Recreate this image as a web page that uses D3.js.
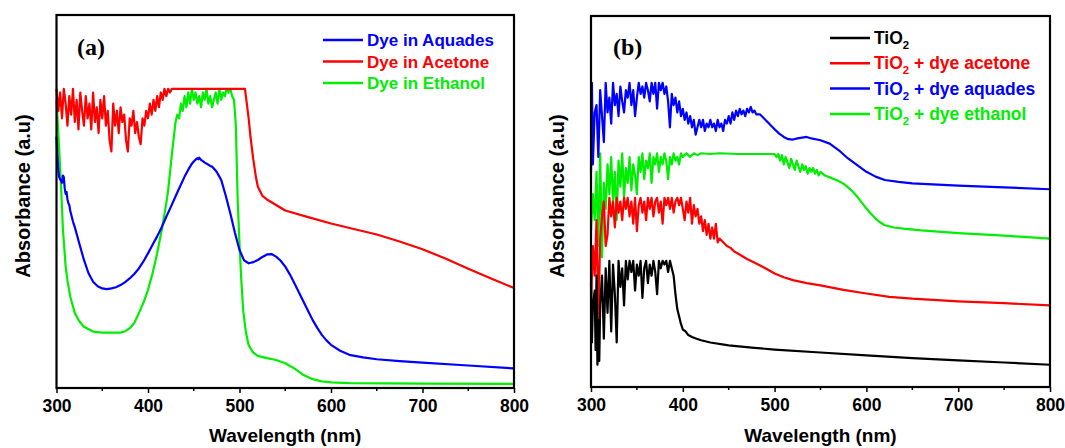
<!DOCTYPE html>
<html>
<head>
<meta charset="utf-8">
<script src="https://cdn.jsdelivr.net/npm/d3@7"></script>
<style>
  body { margin: 0; background: #fff; }
  text { font-family: "Liberation Sans", Arial, sans-serif; font-weight: bold; }
</style>
</head>
<body>
<svg width="1065" height="448"></svg>
<script>
// x ticks (nm)
const majorTicks = [300, 400, 500, 600, 700, 800];
const minorTicks = [350, 450, 550, 650, 750];

// panel (a): dye solutions, [wavelength, absorbance a.u.]
const dyeAquades = [
  [300,0.67],[301,0.62],[302,0.58],[303,0.56],[304,0.555],[305,0.55],[306,0.545],[307,0.565],[308,0.56],
  [309,0.53],[310,0.515],[311,0.52],[312,0.50],[313,0.49],[314,0.485],[315,0.47],[316,0.46],[318,0.44],
  [320,0.425],[325,0.38],[330,0.336],[335,0.30],[340,0.277],[345,0.265],[350,0.259],[355,0.257],[360,0.259],
  [365,0.262],[370,0.268],[375,0.276],[380,0.286],[385,0.298],[390,0.313],[395,0.332],[400,0.354],[405,0.377],
  [410,0.40],[415,0.425],[420,0.453],[425,0.48],[430,0.508],[435,0.535],[440,0.562],[445,0.585],[448,0.597],
  [450,0.603],[452,0.608],[454,0.612],[455,0.609],[456,0.613],[458,0.607],[460,0.604],[462,0.600],[464,0.597],
  [466,0.594],[468,0.591],[470,0.589],[472,0.584],[475,0.575],[478,0.562],[480,0.553],[485,0.51],[490,0.462],
  [495,0.41],[500,0.363],[505,0.335],[510,0.327],[515,0.33],[520,0.336],[525,0.344],[530,0.351],[535,0.352],
  [540,0.345],[545,0.334],[550,0.318],[555,0.297],[560,0.273],[565,0.248],[570,0.223],[575,0.198],[580,0.173],
  [585,0.152],[590,0.133],[595,0.118],[600,0.106],[610,0.09],[620,0.079],[635,0.072],[650,0.067],[675,0.062],
  [700,0.058],[750,0.050],[800,0.042]
];

const dyeAcetone = [
  [300,0.80],[302,0.74],[304,0.79],[306,0.72],[308,0.80],[310,0.76],[312,0.70],[314,0.78],[316,0.73],
  [318,0.80],[320,0.71],[322,0.77],[324,0.69],[326,0.79],[328,0.74],[330,0.70],[332,0.78],[334,0.72],
  [336,0.76],[338,0.69],[340,0.79],[342,0.71],[344,0.75],[346,0.68],[348,0.77],[350,0.72],[352,0.78],
  [354,0.70],[356,0.74],[358,0.66],[360,0.63],[362,0.76],[364,0.70],[366,0.74],[368,0.68],[370,0.75],
  [372,0.71],[374,0.73],[376,0.66],[378,0.63],[380,0.72],[382,0.70],[384,0.74],[386,0.68],[388,0.71],
  [390,0.67],[392,0.65],[394,0.72],[396,0.70],[398,0.74],[400,0.72],[402,0.76],[404,0.73],[406,0.77],
  [408,0.74],[410,0.78],[412,0.75],[414,0.79],[416,0.77],[418,0.80],[420,0.78],[422,0.80],[424,0.79],
  [426,0.80],[430,0.80],[460,0.80],[490,0.80],[506,0.80],[508,0.76],[510,0.72],[512,0.67],[515,0.61],
  [518,0.56],[520,0.535],[525,0.51],[530,0.50],[540,0.485],[550,0.47],[575,0.452],[600,0.435],[625,0.42],
  [650,0.405],[675,0.386],[700,0.365],[725,0.34],[750,0.312],[775,0.286],[800,0.26]
];

const dyeEthanol = [
  [300,0.77],[302,0.68],[305,0.535],[307,0.42],[310,0.318],[312,0.28],[315,0.237],[320,0.192],[325,0.17],
  [330,0.155],[340,0.142],[350,0.139],[360,0.139],[370,0.139],[375,0.143],[380,0.151],[385,0.165],
  [390,0.192],[395,0.22],[400,0.255],[405,0.30],[410,0.354],[415,0.417],[420,0.49],[422,0.524],[426,0.62],
  [430,0.708],[432,0.73],[434,0.72],[436,0.76],[438,0.74],[440,0.78],[442,0.75],[444,0.79],[446,0.76],
  [448,0.80],[450,0.77],[452,0.79],[454,0.76],[456,0.78],[458,0.75],[460,0.79],[462,0.77],[464,0.80],
  [466,0.76],[468,0.78],[470,0.75],[472,0.77],[474,0.79],[476,0.76],[478,0.80],[480,0.77],[482,0.79],
  [484,0.78],[486,0.80],[488,0.79],[490,0.80],[492,0.78],[494,0.77],[496,0.70],[497,0.60],[498,0.50],
  [500,0.38],[502,0.28],[504,0.20],[507,0.14],[510,0.105],[515,0.085],[520,0.076],[530,0.07],[540,0.065],
  [550,0.056],[560,0.042],[570,0.024],[580,0.013],[590,0.007],[600,0.004],[620,0.002],[700,0.001],[800,0.0]
];

// panel (b): TiO2 films
const tio2 = [
  [300,0.28],[301,0.12],[302,0.22],[304,0.26],[305,0.10],[306,0.30],[307,0.06],[308,0.18],[309,0.07],
  [310,0.22],[312,0.30],[314,0.13],[316,0.32],[318,0.20],[320,0.34],[322,0.15],[324,0.33],[326,0.25],
  [328,0.12],[330,0.34],[332,0.27],[334,0.32],[336,0.22],[338,0.34],[340,0.29],[342,0.34],[344,0.31],
  [346,0.34],[348,0.26],[350,0.33],[352,0.30],[354,0.34],[356,0.24],[358,0.32],[360,0.34],[362,0.28],
  [364,0.33],[366,0.30],[368,0.34],[370,0.31],[372,0.25],[374,0.34],[376,0.32],[378,0.34],[380,0.33],
  [382,0.34],[384,0.31],[386,0.34],[388,0.32],[390,0.30],[392,0.25],[394,0.21],[396,0.19],[398,0.17],
  [400,0.155],[403,0.15],[406,0.14],[410,0.135],[415,0.13],[420,0.126],[430,0.12],[450,0.112],[475,0.106],
  [500,0.101],[550,0.093],[600,0.085],[650,0.078],[700,0.072],[750,0.066],[800,0.060]
];

const tio2Acetone = [
  [300,0.22],[302,0.38],[304,0.30],[306,0.45],[308,0.18],[310,0.40],[312,0.46],[314,0.50],[316,0.38],
  [318,0.41],[320,0.51],[322,0.46],[324,0.50],[326,0.43],[328,0.51],[330,0.47],[332,0.50],[334,0.45],
  [336,0.51],[338,0.48],[340,0.51],[342,0.46],[344,0.50],[346,0.44],[348,0.51],[350,0.42],[352,0.49],
  [354,0.51],[356,0.47],[358,0.50],[360,0.45],[362,0.51],[364,0.48],[366,0.51],[368,0.46],[370,0.50],
  [372,0.51],[374,0.47],[376,0.50],[378,0.44],[380,0.51],[382,0.49],[384,0.51],[386,0.48],[388,0.51],
  [390,0.47],[392,0.50],[394,0.51],[396,0.49],[398,0.51],[400,0.48],[402,0.45],[404,0.50],[406,0.47],
  [408,0.51],[410,0.44],[412,0.49],[414,0.46],[416,0.48],[418,0.44],[420,0.46],[422,0.42],[424,0.45],
  [426,0.41],[428,0.44],[430,0.40],[432,0.43],[434,0.40],[436,0.44],[438,0.39],[440,0.40],[444,0.39],
  [448,0.38],[452,0.375],[456,0.365],[460,0.36],[470,0.345],[480,0.333],[490,0.32],[500,0.306],[510,0.296],
  [520,0.288],[535,0.28],[550,0.274],[575,0.262],[600,0.252],[625,0.243],[650,0.238],[700,0.231],
  [750,0.226],[800,0.22]
];

const tio2Aquades = [
  [300,0.58],[301,0.82],[302,0.60],[304,0.74],[306,0.76],[308,0.62],[310,0.80],[312,0.73],[314,0.66],
  [316,0.82],[318,0.74],[320,0.78],[322,0.71],[324,0.82],[326,0.76],[328,0.79],[330,0.73],[332,0.81],
  [334,0.77],[336,0.74],[338,0.80],[340,0.78],[342,0.82],[344,0.76],[346,0.80],[348,0.73],[350,0.78],
  [352,0.82],[354,0.79],[356,0.81],[358,0.78],[360,0.82],[362,0.80],[364,0.77],[366,0.82],[368,0.79],
  [370,0.82],[372,0.75],[374,0.82],[376,0.80],[378,0.82],[380,0.79],[382,0.81],[384,0.77],[386,0.70],
  [388,0.79],[390,0.76],[392,0.78],[394,0.74],[396,0.77],[398,0.73],[400,0.75],[402,0.72],[404,0.74],
  [406,0.71],[408,0.73],[410,0.70],[412,0.72],[414,0.68],[416,0.70],[418,0.72],[420,0.70],[422,0.72],
  [424,0.69],[426,0.71],[428,0.70],[430,0.72],[432,0.70],[434,0.71],[436,0.69],[438,0.72],[440,0.70],
  [442,0.71],[444,0.69],[446,0.72],[448,0.71],[450,0.73],[452,0.71],[454,0.74],[456,0.72],[458,0.745],
  [460,0.73],[462,0.75],[464,0.735],[466,0.745],[468,0.73],[470,0.75],[472,0.74],[474,0.755],[476,0.74],
  [478,0.745],[480,0.735],[484,0.735],[488,0.725],[492,0.715],[496,0.705],[500,0.695],[505,0.683],
  [510,0.674],[515,0.668],[520,0.667],[525,0.67],[530,0.672],[535,0.674],[540,0.67],[550,0.665],
  [560,0.656],[570,0.638],[580,0.616],[590,0.598],[600,0.58],[610,0.567],[620,0.558],[635,0.553],
  [650,0.549],[700,0.543],[750,0.538],[800,0.533]
];

const tio2Ethanol = [
  [300,0.42],[302,0.52],[304,0.45],[306,0.58],[308,0.38],[310,0.63],[312,0.35],[314,0.55],[316,0.48],
  [318,0.60],[320,0.52],[322,0.62],[324,0.50],[326,0.58],[328,0.45],[330,0.61],[332,0.54],[334,0.63],
  [336,0.51],[338,0.59],[340,0.55],[342,0.62],[344,0.53],[346,0.60],[348,0.57],[350,0.52],[352,0.62],
  [354,0.58],[356,0.63],[358,0.56],[360,0.61],[362,0.59],[364,0.63],[366,0.55],[368,0.62],[370,0.60],
  [372,0.63],[374,0.58],[376,0.62],[378,0.60],[380,0.63],[382,0.61],[384,0.56],[386,0.62],[388,0.60],
  [390,0.63],[392,0.61],[394,0.62],[396,0.60],[398,0.63],[400,0.62],[404,0.63],[408,0.62],[412,0.63],
  [416,0.625],[420,0.63],[430,0.628],[440,0.63],[460,0.628],[480,0.628],[500,0.628],[502,0.62],
  [504,0.628],[506,0.61],[508,0.625],[510,0.60],[512,0.62],[514,0.605],[516,0.59],[518,0.615],[520,0.60],
  [522,0.585],[524,0.61],[526,0.595],[528,0.58],[530,0.60],[532,0.585],[534,0.595],[536,0.575],[538,0.59],
  [540,0.58],[542,0.59],[544,0.575],[546,0.585],[548,0.57],[550,0.58],[555,0.57],[560,0.565],[565,0.56],
  [570,0.555],[575,0.548],[580,0.538],[585,0.527],[590,0.513],[595,0.497],[600,0.481],[605,0.467],
  [610,0.454],[615,0.444],[620,0.436],[630,0.43],[640,0.427],[660,0.422],[700,0.415],[750,0.408],[800,0.40]
];

const seriesA = [
  {name: "Dye in Aquades", color: "#0000ff", data: dyeAquades},
  {name: "Dye in Acetone", color: "#ff0000", data: dyeAcetone},
  {name: "Dye in Ethanol", color: "#00ee00", data: dyeEthanol}
];
const seriesB = [
  {name: "TiO2", color: "#000000", data: tio2},
  {name: "TiO2 + dye acetone", color: "#ff0000", data: tio2Acetone},
  {name: "TiO2 + dye aquades", color: "#0000ff", data: tio2Aquades},
  {name: "TiO2 + dye ethanol", color: "#00ee00", data: tio2Ethanol}
];

const svg = d3.select("svg");

function drawPanel(opt) {
  const x = d3.scaleLinear().domain([300, 800]).range([opt.left, opt.right]);
  const y = d3.scaleLinear().domain(opt.yDomain).range([opt.bottom, opt.top]);
  const g = svg.append("g");

  const line = d3.line().x(d => x(d[0])).y(d => y(d[1]));

  // draw in reverse so the first series ends up on top where they overlap
  opt.series.slice().reverse().forEach(s => {
    g.append("path")
      .datum(s.data)
      .attr("d", line)
      .attr("fill", "none")
      .attr("stroke", s.color)
      .attr("stroke-width", 2.2)
      .attr("stroke-linejoin", "round");
  });

  // frame
  g.append("rect")
    .attr("x", opt.left).attr("y", opt.top)
    .attr("width", opt.right - opt.left).attr("height", opt.bottom - opt.top)
    .attr("fill", "none").attr("stroke", "#000").attr("stroke-width", 2.2);

  // x axis
  const ax = g.append("g").attr("transform", `translate(0,${opt.bottom})`)
    .call(d3.axisBottom(x).tickValues(majorTicks).tickSize(5).tickPadding(7).tickFormat(d3.format("d")));
  ax.select(".domain").remove();
  ax.selectAll(".tick line").attr("stroke-width", 1.5);
  ax.selectAll("text").attr("font-size", 17.5).attr("fill", "#000")
    .style("font-family", "'Liberation Sans', Arial, sans-serif").style("font-weight", "bold");

  g.selectAll(".minor")
    .data(minorTicks)
    .enter().append("line")
    .attr("x1", d => x(d)).attr("x2", d => x(d))
    .attr("y1", opt.bottom).attr("y2", opt.bottom + 3)
    .attr("stroke", "#000").attr("stroke-width", 1.5);

  // axis titles
  g.append("text")
    .attr("x", (opt.left + opt.right) / 2).attr("y", 442)
    .attr("text-anchor", "middle").attr("font-size", 19)
    .text("Wavelength (nm)");
  g.append("text")
    .attr("transform", `translate(${opt.left - 27},196) rotate(-90)`)
    .attr("text-anchor", "middle").attr("font-size", 20)
    .text("Absorbance (a.u)");

  // panel label
  g.append("text")
    .attr("x", opt.labelX).attr("y", 55)
    .style("font-family", "'Liberation Serif', 'Times New Roman', serif")
    .attr("font-size", 24)
    .text(opt.label);

  // legend
  opt.series.forEach((s, i) => {
    const ly = opt.legendY + i * opt.legendStep;
    g.append("line")
      .attr("x1", opt.legendX).attr("x2", opt.legendX + 40)
      .attr("y1", ly).attr("y2", ly)
      .attr("stroke", s.color).attr("stroke-width", 2.5);
    const t = g.append("text")
      .attr("x", opt.legendX + 44).attr("y", ly + 6)
      .attr("font-size", opt.legendFont).attr("fill", s.color);
    if (s.name.startsWith("TiO2")) {
      t.append("tspan").text("TiO");
      t.append("tspan").attr("font-size", opt.legendFont * 0.65).attr("dy", 5).text("2");
      t.append("tspan").attr("dy", -5).text(s.name.slice(4));
    } else {
      t.text(s.name);
    }
  });
}

drawPanel({
  left: 56.5, right: 514, top: 15, bottom: 388, yDomain: [-0.011, 1],
  series: seriesA, label: "(a)", labelX: 77,
  legendX: 323, legendY: 40, legendStep: 21.5, legendFont: 17
});
drawPanel({
  left: 591, right: 1050, top: 16, bottom: 387, yDomain: [0, 1],
  series: seriesB, label: "(b)", labelX: 613,
  legendX: 830, legendY: 38, legendStep: 25.3, legendFont: 17.5
});
</script>
</body>
</html>
